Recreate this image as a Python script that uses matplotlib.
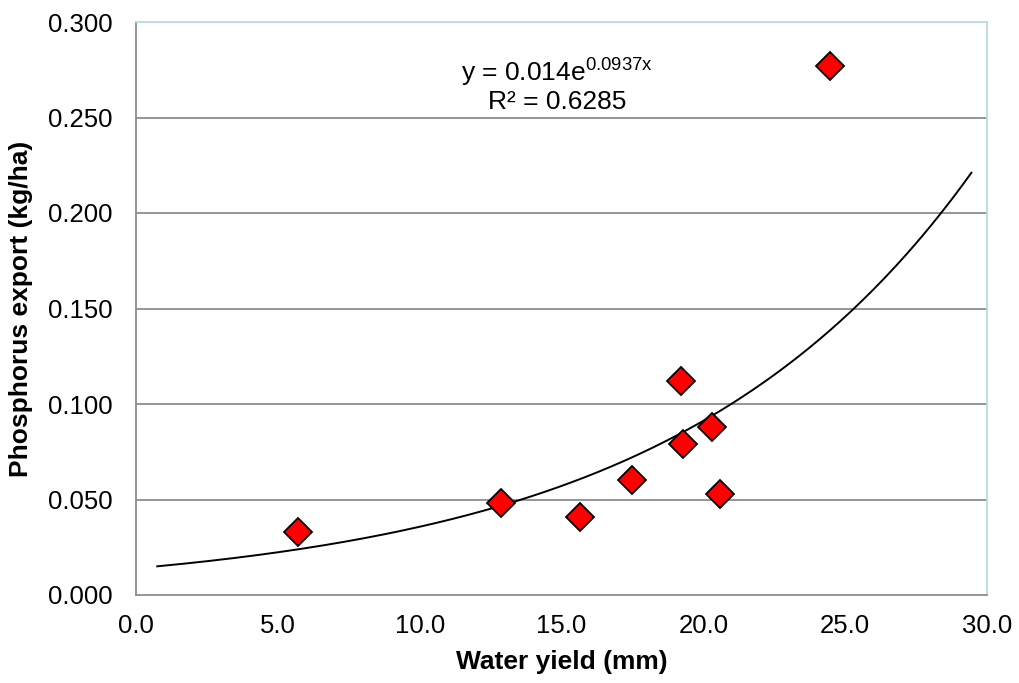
import numpy as np
import matplotlib
matplotlib.use("Agg")
import matplotlib.pyplot as plt

plt.rcParams['font.family'] = ['Liberation Sans', 'DejaVu Sans']
plt.rcParams['mathtext.fontset'] = 'custom'
plt.rcParams['mathtext.rm'] = 'Liberation Sans'

water_yield = [5.7, 12.85, 15.65, 17.5, 19.2, 19.3, 20.3, 20.6, 24.45]
p_export = [0.033, 0.048, 0.041, 0.060, 0.112, 0.079, 0.088, 0.053, 0.277]
fit_a = 0.014
fit_b = 0.0937
fit_range = [0.75, 29.45]
x_ticks = [0, 5, 10, 15, 20, 25, 30]
y_ticks = [0.0, 0.05, 0.10, 0.15, 0.20, 0.25, 0.30]

fig = plt.figure(figsize=(10.19, 6.83), dpi=100)
ax = fig.add_axes([136/1019, 1-595/683, (987-136)/1019, (595-22)/683])

ax.set_xlim(0, 30)
ax.set_ylim(0, 0.3)
ax.set_xticks(x_ticks)
ax.set_yticks(y_ticks)
ax.set_xticklabels([f"{v:.1f}" for v in x_ticks])
ax.set_yticklabels([f"{v:.3f}" for v in y_ticks])
ax.tick_params(length=0, labelsize=18.5)
ax.tick_params(axis='x', pad=14)
ax.tick_params(axis='y', pad=17)

for y in y_ticks[1:-1]:
    ax.axhline(y, color='#8c8c8c', lw=1.3, zorder=1)
for s in ['top', 'right']:
    ax.spines[s].set_color('#b9dbe0')
    ax.spines[s].set_linewidth(1.3)
for s in ['left', 'bottom']:
    ax.spines[s].set_color('#8c8c8c')
    ax.spines[s].set_linewidth(1.3)

xf = np.linspace(fit_range[0], fit_range[1], 300)
ax.plot(xf, fit_a * np.exp(fit_b * xf), color='black', lw=1.4, zorder=2)

ax.plot(water_yield, p_export, linestyle='none', marker='D', markersize=14,
        markerfacecolor='#ff0000', markeredgecolor='black', markeredgewidth=1.3,
        zorder=3, clip_on=False)

ax.text(14.85, 0.274, r'y = 0.014e$^{\mathregular{0.0937x}}$', ha='center', va='center', fontsize=19)
ax.text(14.85, 0.258, 'R² = 0.6285', ha='center', va='center', fontsize=19)

ax.set_xlabel('Water yield (mm)', fontsize=19, fontweight='bold')
ax.set_ylabel('Phosphorus export (kg/ha)', fontsize=19, fontweight='bold')
ax.xaxis.set_label_coords(0.5, (595-650)/573)
ax.yaxis.set_label_coords((33-136)/851, 0.5)

fig.savefig('out.png', dpi=100)
